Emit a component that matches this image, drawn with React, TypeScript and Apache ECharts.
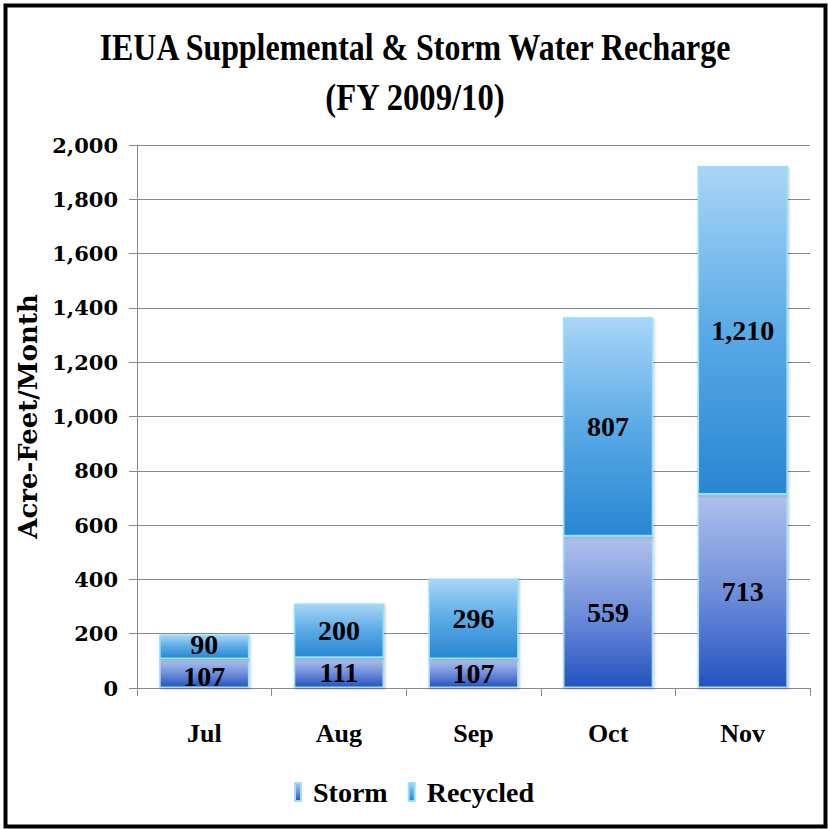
import React, { useEffect, useRef } from "react";
import * as echarts from "echarts";

const months = ["Jul", "Aug", "Sep", "Oct", "Nov"];
const storm = [107, 111, 107, 559, 713];
const recycled = [90, 200, 296, 807, 1210];
const yTicks = { min: 0, max: 2000, interval: 200 };
const titleLines = ["IEUA Supplemental & Storm Water Recharge", "(FY 2009/10)"];

const serif = "'Liberation Serif', 'DejaVu Serif', serif";
const wideSerif = "'DejaVu Serif', 'Liberation Serif', serif";

export default function App() {
  const ref = useRef<HTMLDivElement>(null);
  useEffect(() => {
    if (!ref.current) return;
    const chart = echarts.init(ref.current, undefined, { renderer: "svg" });
    const stormGrad = new echarts.graphic.LinearGradient(0, 0, 0, 1, [
      { offset: 0, color: "#b0c0ec" },
      { offset: 0.5, color: "#6f8fdb" },
      { offset: 1, color: "#2452c0" },
    ]);
    const recGrad = new echarts.graphic.LinearGradient(0, 0, 0, 1, [
      { offset: 0, color: "#a9d5f7" },
      { offset: 0.5, color: "#5aaae6" },
      { offset: 1, color: "#2986d2" },
    ]);
    const labelStyle = {
      show: true,
      position: "inside" as const,
      fontFamily: serif,
      fontWeight: "bold" as const,
      fontSize: 28,
      color: "#000",
      formatter: (p: any) => Number(p.value).toLocaleString("en-US"),
    };
    const stormData = storm.map((v, i) =>
      i === 0 ? { value: v, label: { offset: [0, 3] } } : v
    );
    const recData = recycled.map((v, i) =>
      i === 0 ? { value: v, label: { offset: [0, -2] } } : v
    );
    chart.setOption({
      animation: false,
      backgroundColor: "#fff",
      legend: {
        bottom: 18,
        left: "center",
        itemWidth: 6,
        itemHeight: 18,
        itemGap: 20,
        icon: "rect",
        textStyle: {
          fontFamily: serif,
          fontWeight: "bold",
          fontSize: 28,
          color: "#000",
          padding: [0, 0, 0, 7],
        },
        data: [
          { name: "Storm", itemStyle: { color: stormGrad } },
          { name: "Recycled", itemStyle: { color: recGrad } },
        ],
      },
      grid: { left: 137, right: 18, top: 145, bottom: 141 },
      xAxis: {
        type: "category",
        data: months,
        axisLine: { lineStyle: { color: "#888", width: 1 } },
        axisTick: { show: true, length: 8, lineStyle: { color: "#888" } },
        axisLabel: {
          margin: 32,
          fontFamily: serif,
          fontWeight: "bold",
          fontSize: 26,
          color: "#000",
        },
      },
      yAxis: {
        type: "value",
        min: yTicks.min,
        max: yTicks.max,
        interval: yTicks.interval,
        name: "Acre-Feet/Month",
        nameLocation: "middle",
        nameRotate: 90,
        nameGap: 93,
        nameTextStyle: {
          fontFamily: wideSerif,
          fontWeight: "bold",
          fontSize: 26,
          color: "#000",
        },
        axisLine: { show: true, lineStyle: { color: "#888", width: 1 } },
        axisTick: { show: true, length: 8, lineStyle: { color: "#888" } },
        splitLine: { lineStyle: { color: "#888", width: 1 } },
        axisLabel: {
          margin: 19,
          fontFamily: wideSerif,
          fontWeight: "bold",
          fontSize: 21,
          color: "#000",
          formatter: (v: number) => v.toLocaleString("en-US"),
        },
      },
      series: [
        {
          name: "Storm",
          type: "bar",
          stack: "total",
          barWidth: "67%",
          data: stormData,
          itemStyle: {
            color: stormGrad,
            borderColor: "#9fe0f8",
            borderWidth: 1.5,
            shadowBlur: 3,
            shadowColor: "rgba(0,0,0,0.25)",
            shadowOffsetX: 1,
            shadowOffsetY: 1,
          },
          label: labelStyle,
        },
        {
          name: "Recycled",
          type: "bar",
          stack: "total",
          barWidth: "67%",
          data: recData,
          itemStyle: {
            color: recGrad,
            borderColor: "#8fe2f8",
            borderWidth: 1.5,
            shadowBlur: 3,
            shadowColor: "rgba(0,0,0,0.25)",
            shadowOffsetX: 1,
            shadowOffsetY: 1,
          },
          label: labelStyle,
        },
      ],
      graphic: [
        {
          type: "text",
          x: 415,
          y: 48,
          scaleX: 0.84,
          silent: true,
          style: {
            text: titleLines[0],
            fontFamily: serif,
            fontWeight: "bold",
            fontSize: 38,
            fill: "#000",
            textAlign: "center",
            textVerticalAlign: "middle",
          },
        },
        {
          type: "text",
          x: 415,
          y: 97,
          scaleX: 0.86,
          silent: true,
          style: {
            text: titleLines[1],
            fontFamily: serif,
            fontWeight: "bold",
            fontSize: 38,
            fill: "#000",
            textAlign: "center",
            textVerticalAlign: "middle",
          },
        },
        {
          type: "rect",
          left: 3,
          top: 3,
          shape: { width: 820, height: 821 },
          style: { fill: "none", stroke: "#000", lineWidth: 4 },
          silent: true,
        },
      ],
    });
    return () => chart.dispose();
  }, []);
  return (
    <div
      ref={ref}
      style={{ position: "fixed", left: 0, top: 0, width: 828, height: 829 }}
    />
  );
}
